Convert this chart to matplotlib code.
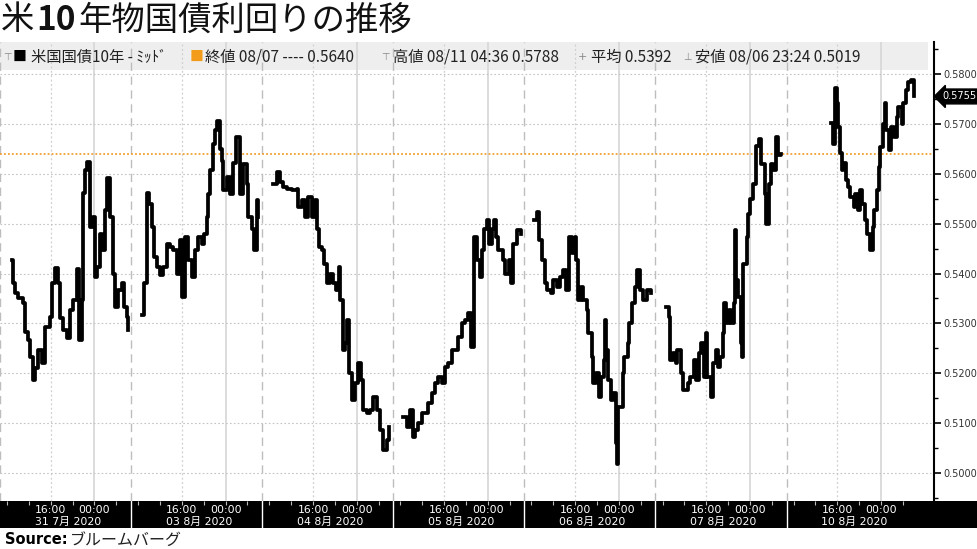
import matplotlib
matplotlib.use('Agg')
import matplotlib.pyplot as plt
import matplotlib.patches as mpatches
from matplotlib.ticker import MultipleLocator, FormatStrFormatter

plt.rcParams['font.family'] = ['Noto Sans CJK JP', 'DejaVu Sans']

# ---------------- data ----------------
title_parts = ["米", "10", "年物国債利回りの推移"]
day_labels = ["31 7月 2020", "03 8月 2020", "04 8月 2020", "05 8月 2020",
              "06 8月 2020", "07 8月 2020", "10 8月 2020"]
hour_labels = ["16:00", "00:00"]
series_name = "米国国債10年 - ﾐｯﾄﾞ"
last_label = "終値 08/07 ---- 0.5640"
high_label = "高値 08/11 04:36 0.5788"
avg_label = "平均 0.5392"
low_label = "安値 08/06 23:24 0.5019"
ref_close = 0.5640
last_value = 0.5755
source_bold = "Source:"
source_text = "ブルームバーグ"

# hours since start of each session day, and yield values
t_0731 = [2.2, 2.4, 2.7, 3.3, 4.2, 4.6, 5.1, 5.5, 6.0, 6.4, 7.0, 7.7, 8.2, 9.2, 9.5, 10.1,
          10.6, 11.0, 11.5, 12.3, 12.8, 13.4, 14.1, 14.5, 15.0, 15.2, 15.6, 15.9, 16.5,
          17.0, 17.4, 17.8, 18.3, 18.7, 19.2, 19.6, 20.2, 20.7, 21.1, 21.6, 22.4, 22.7,
          23.3, 23.4]
v_0731 = [0.5427, 0.5380, 0.5360, 0.5350, 0.5340, 0.5283, 0.5267, 0.5233, 0.5187, 0.5210,
          0.5247, 0.5220, 0.5293, 0.5313, 0.5380, 0.5411, 0.5380, 0.5310, 0.5287, 0.5270,
          0.5327, 0.5347, 0.5410, 0.5267, 0.5347, 0.5561, 0.5607, 0.5624, 0.5493, 0.5513,
          0.5393, 0.5413, 0.5480, 0.5447, 0.5527, 0.5591, 0.5513, 0.5400, 0.5333, 0.5367,
          0.5380, 0.5333, 0.5313, 0.5287]

t_0803 = [2.0, 2.4, 2.9, 3.3, 3.8, 4.2, 4.8, 5.3, 5.9, 6.6, 7.1, 7.7, 8.4, 9.0, 9.3, 9.9,
          10.4, 11.2, 11.7, 12.3, 13.0, 13.4, 13.9, 14.1, 14.5, 15.0, 15.4, 15.8, 16.3,
          16.6, 16.9, 17.6, 18.1, 18.7, 19.2, 20.0, 20.5, 21.3, 21.4, 22.2, 22.5, 23.1, 23.3]
v_0803 = [0.5317, 0.5380, 0.5561, 0.5540, 0.5493, 0.5433, 0.5413, 0.5397, 0.5413, 0.5460,
          0.5453, 0.5447, 0.5400, 0.5467, 0.5353, 0.5473, 0.5427, 0.5393, 0.5447, 0.5473,
          0.5460, 0.5480, 0.5513, 0.5560, 0.5607, 0.5660, 0.5688, 0.5706, 0.5650, 0.5625,
          0.5567, 0.5593, 0.5560, 0.5621, 0.5674, 0.5560, 0.5620, 0.5580, 0.5513, 0.5490,
          0.5447, 0.5547, 0.5513]

t_0804 = [2.0, 2.7, 3.3, 3.8, 4.6, 5.5, 6.4, 6.6, 7.3, 7.9, 8.4, 9.2, 9.7, 10.1, 10.4, 11.0,
          11.4, 11.9, 12.5, 13.0, 13.6, 14.1, 14.3, 14.8, 15.2, 15.6, 15.9, 16.5, 17.0,
          17.6, 18.1, 18.5, 19.2, 19.8, 20.3, 21.1, 21.6, 22.2, 22.9, 23.3]
v_0804 = [0.5580, 0.5604, 0.5584, 0.5574, 0.5570, 0.5568, 0.5570, 0.5533, 0.5547, 0.5513,
          0.5553, 0.5513, 0.5547, 0.5490, 0.5453, 0.5447, 0.5420, 0.5380, 0.5400, 0.5380,
          0.5367, 0.5413, 0.5347, 0.5247, 0.5260, 0.5307, 0.5201, 0.5146, 0.5180, 0.5220,
          0.5187, 0.5126, 0.5120, 0.5126, 0.5153, 0.5126, 0.5086, 0.5046, 0.5066, 0.5092]

t_0805 = [1.8, 2.6, 3.1, 3.7, 4.0, 4.6, 5.3, 5.9, 6.4, 7.1, 7.7, 8.2, 9.0, 9.5, 10.1, 10.8,
          11.4, 11.9, 12.6, 13.2, 13.7, 14.3, 14.7, 14.8, 15.4, 15.8, 16.3, 16.7, 17.2,
          17.6, 18.1, 18.5, 18.9, 19.2, 20.0, 20.5, 21.1, 21.6, 22.0, 22.7, 23.3]
v_0805 = [0.5112, 0.5092, 0.5126, 0.5072, 0.5086, 0.5100, 0.5120, 0.5120, 0.5140, 0.5160,
          0.5180, 0.5193, 0.5180, 0.5213, 0.5220, 0.5247, 0.5247, 0.5273, 0.5300, 0.5307,
          0.5320, 0.5253, 0.5380, 0.5473, 0.5427, 0.5393, 0.5447, 0.5490, 0.5507, 0.5460,
          0.5490, 0.5507, 0.5473, 0.5447, 0.5427, 0.5400, 0.5427, 0.5380, 0.5460, 0.5487,
          0.5480]

t_0806 = [1.8, 2.4, 2.7, 3.3, 3.7, 4.2, 4.8, 5.3, 6.0, 6.6, 7.1, 7.7, 8.1, 8.8, 9.2, 9.5,
          9.9, 10.4, 10.8, 11.4, 11.7, 12.3, 12.6, 13.2, 13.6, 14.1, 14.5, 14.7, 15.0, 15.4,
          15.9, 16.3, 16.7, 16.9, 17.2, 17.6, 18.0, 18.3, 18.9, 19.2, 19.8, 20.3, 20.7,
          21.2, 21.8, 22.5, 23.1]
v_0806 = [0.5507, 0.5523, 0.5467, 0.5427, 0.5380, 0.5367, 0.5360, 0.5387, 0.5373, 0.5393,
          0.5407, 0.5367, 0.5473, 0.5441, 0.5473, 0.5427, 0.5347, 0.5373, 0.5347, 0.5327,
          0.5280, 0.5233, 0.5180, 0.5200, 0.5153, 0.5193, 0.5227, 0.5307, 0.5247, 0.5187,
          0.5146, 0.5160, 0.5060, 0.5019, 0.5133, 0.5133, 0.5200, 0.5233, 0.5260, 0.5300,
          0.5340, 0.5373, 0.5407, 0.5367, 0.5347, 0.5367, 0.5360]

t_0807 = [2.0, 2.4, 2.7, 3.3, 3.7, 4.0, 4.6, 5.1, 5.9, 6.4, 7.0, 7.5, 7.9, 8.4, 8.8, 9.2,
          9.5, 10.1, 10.6, 11.0, 11.4, 11.9, 12.3, 12.6, 13.0, 13.4, 13.9, 14.3, 14.5, 14.8,
          15.2, 15.6, 15.9, 16.1, 16.7, 16.9, 17.4, 17.9, 18.5, 18.9, 19.4, 20.0, 20.3,
          20.7, 21.1, 21.6, 22.0, 22.5, 22.9]
v_0807 = [0.5333, 0.5313, 0.5227, 0.5240, 0.5220, 0.5247, 0.5200, 0.5167, 0.5180, 0.5193,
          0.5227, 0.5187, 0.5240, 0.5260, 0.5193, 0.5280, 0.5193, 0.5153, 0.5220, 0.5247,
          0.5213, 0.5233, 0.5280, 0.5340, 0.5300, 0.5327, 0.5300, 0.5340, 0.5487, 0.5387,
          0.5353, 0.5260, 0.5233, 0.5420, 0.5473, 0.5520, 0.5550, 0.5580, 0.5655, 0.5670,
          0.5620, 0.5560, 0.5500, 0.5580, 0.5620, 0.5607, 0.5674, 0.5638, 0.5640]

t_0810 = [8.1, 8.6, 8.8, 9.2, 9.5, 9.7, 10.1, 10.4, 10.8, 11.2, 11.7, 12.3, 12.6, 13.0,
          13.4, 13.9, 14.3, 14.8, 15.2, 15.8, 16.1, 16.5, 16.9, 17.2, 17.6, 18.0, 18.3,
          18.7, 19.2, 19.6, 20.2, 20.5, 21.1, 21.4, 21.8, 22.2, 22.7, 23.3]
v_0810 = [0.5702, 0.5660, 0.5772, 0.5742, 0.5694, 0.5642, 0.5607, 0.5621, 0.5587, 0.5573,
          0.5553, 0.5533, 0.5560, 0.5527, 0.5567, 0.5540, 0.5507, 0.5480, 0.5447, 0.5493,
          0.5527, 0.5567, 0.5614, 0.5654, 0.5700, 0.5742, 0.5688, 0.5648, 0.5694, 0.5674,
          0.5714, 0.5734, 0.5700, 0.5742, 0.5768, 0.5784, 0.5788, 0.5755]

day_t = [t_0731, t_0803, t_0804, t_0805, t_0806, t_0807, t_0810]
day_v = [v_0731, v_0803, v_0804, v_0805, v_0806, v_0807, v_0810]
hour_offsets = [9.3, 17.3]      # position of 16:00 and 00:00 inside a session
day_hours = 24
# --------------------------------------

W, H = 977, 549
fig = plt.figure(figsize=(W / 100, H / 100), dpi=100)
fx = lambda px: px / W
fy = lambda py: 1 - py / H

x_max = 171.0
ax = fig.add_axes([0, fy(501), fx(934), (501 - 42) / H])
ax.set_facecolor('none')
ax.set_xlim(0, x_max)
ax.set_ylim(0.49439, 0.58642)

# legend band (behind axes)
fig.patches.append(mpatches.Rectangle((0, fy(70)), fx(928), 28 / H, transform=fig.transFigure,
                                      facecolor='#eeeeee', edgecolor='none', zorder=-1))

# grid
ax.yaxis.set_major_locator(MultipleLocator(0.01))
ax.yaxis.set_minor_locator(MultipleLocator(0.005))
ax.yaxis.set_major_formatter(FormatStrFormatter('%.4f'))
ax.grid(axis='y', which='major', linestyle=(0, (1.5, 2)), color='#c4c4c4', lw=0.8)
for d in range(len(day_labels)):
    base = d * day_hours
    ax.axvline(base, color='#bdbdbd', lw=1.0, dashes=(6, 4), zorder=0.5)
    ax.axvline(base + hour_offsets[0], color='#cfcfcf', lw=0.9, ls=(0, (1.5, 2)), zorder=0.5)
    ax.axvline(base + hour_offsets[1], color='#d6d6d6', lw=1.2, zorder=0.5)

ax.axhline(ref_close, color='#f0a030', lw=1.3, ls=(0, (1, 1.2)), zorder=1)

for d, (tt, vv) in enumerate(zip(day_t, day_v)):
    xs = [d * day_hours + t for t in tt]
    ax.step(xs, vv, where='post', color='black', lw=2.7, zorder=3)

for s in ['top', 'left', 'bottom']:
    ax.spines[s].set_visible(False)
ax.spines['right'].set_color('black')
ax.spines['right'].set_linewidth(1.5)
ax.yaxis.tick_right()
ax.tick_params(axis='y', which='major', length=5, width=1.2, direction='out', labelsize=7,
               labelcolor='#333333', pad=1.5)
ax.tick_params(axis='y', which='minor', length=3, width=1.0, direction='out')
ax.set_xticks([])
for lab in ax.get_yticklabels():
    lab.set_family('DejaVu Sans')

ax.annotate(f"{last_value:.4f}", xy=(1, last_value), xycoords=('axes fraction', 'data'),
            xytext=(6, 0), textcoords='offset points', ha='left', va='center',
            fontsize=7, color='white', family='DejaVu Sans',
            bbox=dict(boxstyle='larrow,pad=0.25', fc='black', ec='black'),
            annotation_clip=False)

# bottom time band
axb = fig.add_axes([0, fy(528), 1, 27 / H])
axb.set_facecolor('black')
axb.set_xlim(0, x_max * W / 934)
axb.set_ylim(0, 1)
axb.set_yticks([])
for s in axb.spines.values():
    s.set_visible(False)
ticks = []
for d in range(len(day_labels)):
    ticks += [d * day_hours + 1.3 + 4 * k for k in range(6)]
axb.set_xticks(ticks)
axb.set_xticklabels([])
axb.tick_params(axis='x', bottom=False, top=True, direction='in', length=3, color='#bbbbbb')
for d, lab in enumerate(day_labels):
    base = d * day_hours
    if d > 0:
        axb.axvline(base, color='white', lw=1.0)
    for off, hl in zip(hour_offsets, hour_labels):
        axb.text(base + off, 0.66, hl, ha='center', va='center', color='white', fontsize=7.8,
                 family=['DejaVu Sans', 'Noto Sans CJK JP'])
    axb.text(base + 12.4, 0.22, lab, ha='center', va='center', color='white', fontsize=7.8,
             family=['DejaVu Sans', 'Noto Sans CJK JP'])

# title with bold digits
renderer = fig.canvas.get_renderer()
x_px = 1
for part in title_parts:
    weight = 'bold' if part.isdigit() else 'normal'
    t = fig.text(fx(x_px), fy(20), part, fontsize=24, fontweight=weight, va='center', ha='left',
                 color='#111111')
    bb = t.get_window_extent(renderer)
    x_px += bb.width + 2

# legend texts
ly = fy(57)
fs_leg = 11
fig.text(fx(3), ly, "⊤", fontsize=7, color='#888888', va='center', family='DejaVu Sans')
fig.text(fx(13), ly, "■", fontsize=10, color='black', va='center')
fig.text(fx(31), ly, series_name, fontsize=fs_leg, color='#222222', va='center')
fig.text(fx(190), ly, "■", fontsize=10, color='#f39c1a', va='center')
fig.text(fx(205), ly, last_label, fontsize=fs_leg, color='#222222', va='center')
fig.text(fx(381), ly, "⊤", fontsize=7, color='#888888', va='center', family='DejaVu Sans')
fig.text(fx(393), ly, high_label, fontsize=fs_leg, color='#222222', va='center')
fig.text(fx(578), ly, "+", fontsize=8, color='#888888', va='center', family='DejaVu Sans')
fig.text(fx(591), ly, avg_label, fontsize=fs_leg, color='#222222', va='center')
fig.text(fx(683), ly, "⊥", fontsize=7, color='#888888', va='center', family='DejaVu Sans')
fig.text(fx(695), ly, low_label, fontsize=fs_leg, color='#222222', va='center')

# source
fig.text(fx(5), fy(540), source_bold, fontsize=10.5, fontweight='bold', va='center',
         family='DejaVu Sans')
fig.text(fx(70), fy(540), source_text, fontsize=11.5, va='center', color='#222222')

fig.savefig('out.png', dpi=100)
